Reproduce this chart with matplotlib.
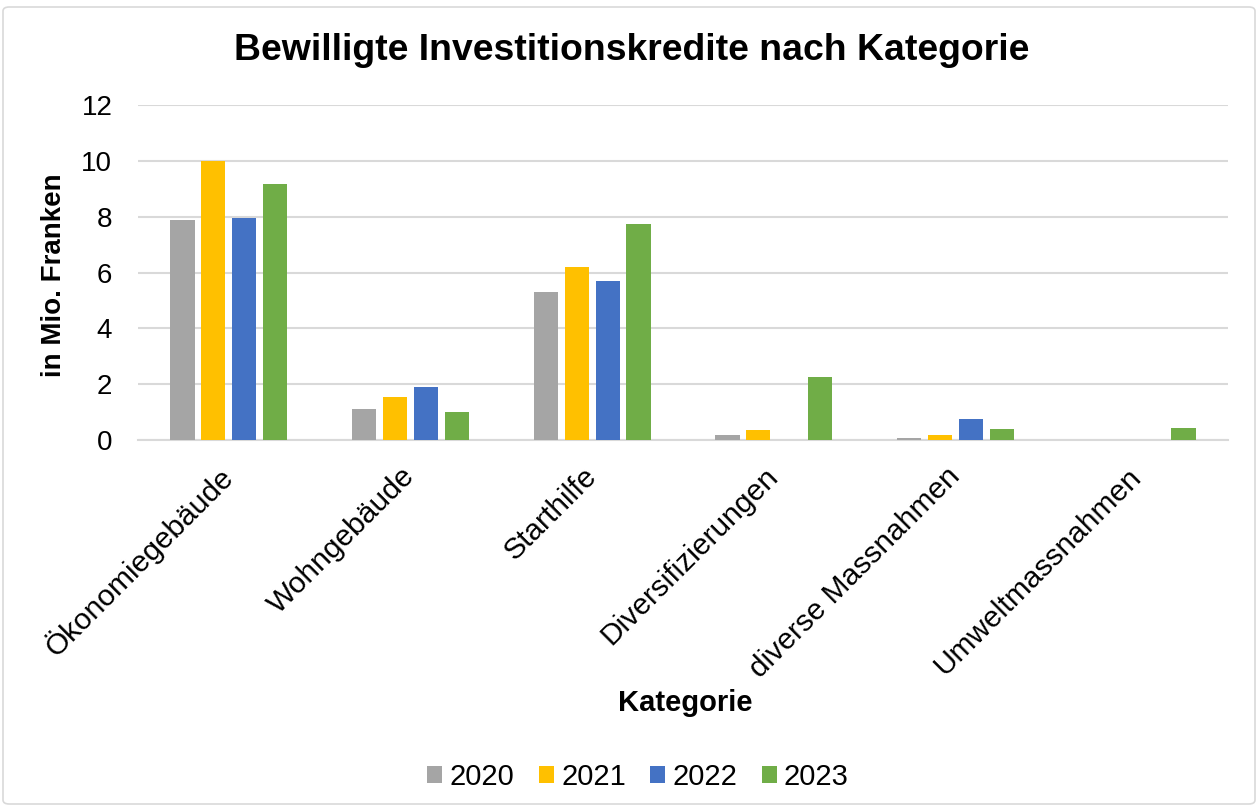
import matplotlib
matplotlib.use("Agg")
import matplotlib.pyplot as plt
import numpy as np
from matplotlib.patches import FancyBboxPatch

categories = ["Ökonomiegebäude", "Wohngebäude", "Starthilfe", "Diversifizierungen",
              "diverse Massnahmen", "Umweltmassnahmen"]
years = ["2020", "2021", "2022", "2023"]
v2020 = [7.87, 1.10, 5.29, 0.17, 0.06, 0.0]
v2021 = [10.0, 1.53, 6.19, 0.36, 0.18, 0.0]
v2022 = [7.94, 1.89, 5.68, 0.0, 0.75, 0.0]
v2023 = [9.16, 0.99, 7.75, 2.24, 0.39, 0.43]
colors = ["#A5A5A5", "#FFC000", "#4472C4", "#70AD47"]

plt.rcParams['font.family'] = ['Liberation Sans', 'DejaVu Sans']

fig = plt.figure(figsize=(12.58, 8.07), dpi=100)
ax = fig.add_axes([138/1258, 1-440/807, (1228-138)/1258, (440-105)/807])

x = np.arange(len(categories))
bw = 0.133
step = 0.17
series = [v2020, v2021, v2022, v2023]
for i, (vals, c, yr) in enumerate(zip(series, colors, years)):
    ax.bar(x + (i - 1.5) * step, vals, width=bw, color=c, label=yr, zorder=3)

ax.set_xlim(-0.5, len(categories) - 0.5)
ax.set_ylim(0, 12)
ax.set_yticks(range(0, 13, 2))
ax.grid(axis='y', color='#d9d9d9', linewidth=1.5, zorder=0)
for s in ['top', 'right', 'left']:
    ax.spines[s].set_visible(False)
ax.spines['bottom'].set_color('#d9d9d9')
ax.spines['bottom'].set_linewidth(1.5)
ax.tick_params(axis='both', length=0)
ax.tick_params(axis='y', pad=18.5, labelsize=20)
ax.set_xticks(x)
ax.set_xticklabels(categories, rotation=45, ha='right', va='center', rotation_mode='anchor', fontsize=21.5)
ax.tick_params(axis='x', pad=23)

fig.text(54/1258, 1-275/807, "in Mio. Franken", fontsize=20, fontweight='bold',
         ha='center', va='center', rotation=90)
fig.text(685/1258, 1-703/807, "Kategorie", fontsize=21, fontweight='bold', ha='center', va='center')
fig.text(632/1258, 1-51/807, "Bewilligte Investitionskredite nach Kategorie", fontsize=26.9,
         fontweight='bold', ha='center', va='center')

leg = fig.legend(loc='center', bbox_to_anchor=(638/1258, 1-777/807), ncol=4, frameon=False,
                 fontsize=21, handlelength=0.52, handleheight=0.52, handletextpad=0.25,
                 columnspacing=0.83)

border = FancyBboxPatch((3/1258, 3/807), 1252/1258, 797/807, boxstyle="round,pad=0,rounding_size=0.005",
                        transform=fig.transFigure, fill=False, edgecolor='#d9d9d9', linewidth=1.2)
fig.patches.append(border)

fig.savefig("out.png", dpi=100)
